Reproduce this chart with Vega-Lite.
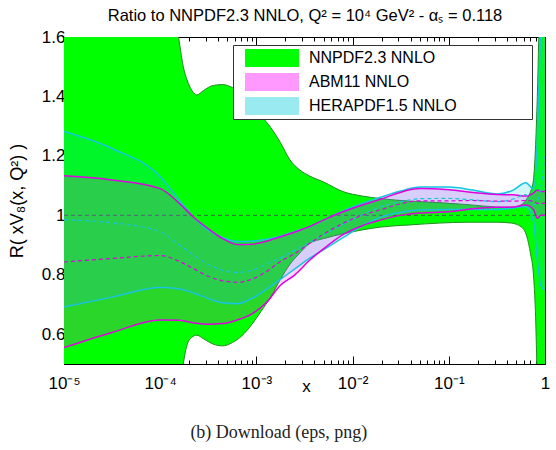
{
  "$schema": "https://vega.github.io/schema/vega-lite/v6.json",
  "width": 481,
  "height": 327,
  "autosize": {"type": "none"},
  "padding": {"left": 64, "top": 37, "right": 11, "bottom": 86},
  "background": "white",
  "config": {
    "font": "Liberation Sans",
    "view": {"stroke": null},
    "axis": {"grid": false, "zindex": 1, "domainColor": "black", "tickColor": "black", "labelColor": "black", "titleColor": "black", "titleFontWeight": "normal"}
  },
  "title": {"text": "(b) Download (eps, png)", "orient": "bottom", "font": "Liberation Serif", "fontSize": 18, "fontWeight": "normal", "color": "#222", "offset": 29, "anchor": "middle", "frame": "bounds"},
  "datasets": {
    "nn": [
      {"x": 1e-5, "lo": 0.3, "hi": 2.2},
      {"x": 3.162e-5, "lo": 0.3, "hi": 2.1},
      {"x": 1e-4, "lo": 0.3, "hi": 1.9},
      {"x": 1.413e-4, "lo": 0.3, "hi": 1.68},
      {"x": 1.585e-4, "lo": 0.4, "hi": 1.58},
      {"x": 1.738e-4, "lo": 0.5, "hi": 1.5},
      {"x": 1.905e-4, "lo": 0.565, "hi": 1.455},
      {"x": 2.138e-4, "lo": 0.59, "hi": 1.42},
      {"x": 2.399e-4, "lo": 0.597, "hi": 1.405},
      {"x": 2.818e-4, "lo": 0.585, "hi": 1.42},
      {"x": 3.548e-4, "lo": 0.567, "hi": 1.437},
      {"x": 4.467e-4, "lo": 0.561, "hi": 1.44},
      {"x": 5.623e-4, "lo": 0.572, "hi": 1.43},
      {"x": 7.079e-4, "lo": 0.595, "hi": 1.41},
      {"x": 8.913e-4, "lo": 0.632, "hi": 1.375},
      {"x": 1.122e-3, "lo": 0.678, "hi": 1.335},
      {"x": 1.413e-3, "lo": 0.726, "hi": 1.295},
      {"x": 1.778e-3, "lo": 0.785, "hi": 1.245},
      {"x": 2.239e-3, "lo": 0.836, "hi": 1.186},
      {"x": 2.818e-3, "lo": 0.873, "hi": 1.153},
      {"x": 3.548e-3, "lo": 0.905, "hi": 1.133},
      {"x": 5.012e-3, "lo": 0.922, "hi": 1.112},
      {"x": 7.943e-3, "lo": 0.938, "hi": 1.08},
      {"x": 0.01259, "lo": 0.951, "hi": 1.065},
      {"x": 0.01995, "lo": 0.961, "hi": 1.056},
      {"x": 0.03981, "lo": 0.968, "hi": 1.048},
      {"x": 0.07943, "lo": 0.974, "hi": 1.043},
      {"x": 0.1585, "lo": 0.977, "hi": 1.036},
      {"x": 0.3162, "lo": 0.977, "hi": 1.028},
      {"x": 0.4467, "lo": 0.974, "hi": 1.027},
      {"x": 0.5623, "lo": 0.962, "hi": 1.035},
      {"x": 0.6457, "lo": 0.93, "hi": 1.055},
      {"x": 0.7079, "lo": 0.87, "hi": 1.08},
      {"x": 0.7586, "lo": 0.8, "hi": 1.12},
      {"x": 0.7943, "lo": 0.68, "hi": 1.22},
      {"x": 0.8318, "lo": 0.45, "hi": 1.4},
      {"x": 0.8913, "lo": 0.3, "hi": 1.8},
      {"x": 1, "lo": 0.3, "hi": 2.2}
    ],
    "abm": [
      {"x": 1e-5, "lo": 0.555, "hi": 1.133, "c": 0.843},
      {"x": 3.162e-5, "lo": 0.606, "hi": 1.119, "c": 0.855},
      {"x": 1e-4, "lo": 0.648, "hi": 1.09, "c": 0.865},
      {"x": 1.585e-4, "lo": 0.647, "hi": 1.04, "c": 0.845},
      {"x": 2.239e-4, "lo": 0.638, "hi": 0.993, "c": 0.82},
      {"x": 3.162e-4, "lo": 0.634, "hi": 0.955, "c": 0.795},
      {"x": 4.467e-4, "lo": 0.636, "hi": 0.922, "c": 0.78},
      {"x": 6.31e-4, "lo": 0.648, "hi": 0.902, "c": 0.775},
      {"x": 8.913e-4, "lo": 0.668, "hi": 0.903, "c": 0.785},
      {"x": 1.259e-3, "lo": 0.705, "hi": 0.913, "c": 0.81},
      {"x": 1.778e-3, "lo": 0.765, "hi": 0.928, "c": 0.845},
      {"x": 2.512e-3, "lo": 0.8, "hi": 0.944, "c": 0.872},
      {"x": 3.548e-3, "lo": 0.848, "hi": 0.962, "c": 0.905},
      {"x": 5.012e-3, "lo": 0.888, "hi": 0.985, "c": 0.937},
      {"x": 7.943e-3, "lo": 0.935, "hi": 1.012, "c": 0.973},
      {"x": 0.01259, "lo": 0.965, "hi": 1.035, "c": 1.0},
      {"x": 0.01995, "lo": 0.985, "hi": 1.055, "c": 1.02},
      {"x": 0.03162, "lo": 1.0, "hi": 1.078, "c": 1.039},
      {"x": 0.05012, "lo": 1.008, "hi": 1.09, "c": 1.049},
      {"x": 0.1, "lo": 1.012, "hi": 1.086, "c": 1.049},
      {"x": 0.1778, "lo": 1.022, "hi": 1.077, "c": 1.05},
      {"x": 0.3162, "lo": 1.027, "hi": 1.07, "c": 1.048},
      {"x": 0.4677, "lo": 1.028, "hi": 1.069, "c": 1.048},
      {"x": 0.631, "lo": 1.035, "hi": 1.065, "c": 1.05},
      {"x": 0.7586, "lo": 1.02, "hi": 1.075, "c": 1.048},
      {"x": 0.8318, "lo": 0.99, "hi": 1.085, "c": 1.04},
      {"x": 0.912, "lo": 1.0, "hi": 1.08, "c": 1.04},
      {"x": 1, "lo": 1.0, "hi": 1.08, "c": 1.04}
    ],
    "hera": [
      {"x": 1e-5, "lo": 0.692, "hi": 1.282, "c": 0.985},
      {"x": 3.162e-5, "lo": 0.725, "hi": 1.225, "c": 0.975},
      {"x": 1e-4, "lo": 0.757, "hi": 1.13, "c": 0.945},
      {"x": 1.585e-4, "lo": 0.752, "hi": 1.05, "c": 0.9},
      {"x": 2.239e-4, "lo": 0.738, "hi": 0.993, "c": 0.865},
      {"x": 3.162e-4, "lo": 0.72, "hi": 0.95, "c": 0.835},
      {"x": 4.467e-4, "lo": 0.706, "hi": 0.925, "c": 0.815},
      {"x": 6.31e-4, "lo": 0.703, "hi": 0.912, "c": 0.808},
      {"x": 8.913e-4, "lo": 0.72, "hi": 0.913, "c": 0.815},
      {"x": 1.259e-3, "lo": 0.75, "hi": 0.92, "c": 0.835},
      {"x": 1.778e-3, "lo": 0.785, "hi": 0.93, "c": 0.857},
      {"x": 2.512e-3, "lo": 0.82, "hi": 0.946, "c": 0.883},
      {"x": 3.548e-3, "lo": 0.855, "hi": 0.962, "c": 0.908},
      {"x": 5.012e-3, "lo": 0.885, "hi": 0.985, "c": 0.935},
      {"x": 7.943e-3, "lo": 0.925, "hi": 1.015, "c": 0.97},
      {"x": 0.01259, "lo": 0.965, "hi": 1.04, "c": 1.002},
      {"x": 0.01995, "lo": 0.995, "hi": 1.062, "c": 1.03},
      {"x": 0.03162, "lo": 1.01, "hi": 1.082, "c": 1.046},
      {"x": 0.05012, "lo": 1.018, "hi": 1.095, "c": 1.056},
      {"x": 0.1, "lo": 1.02, "hi": 1.095, "c": 1.057},
      {"x": 0.1778, "lo": 1.02, "hi": 1.085, "c": 1.052},
      {"x": 0.3162, "lo": 1.02, "hi": 1.072, "c": 1.046},
      {"x": 0.4677, "lo": 1.025, "hi": 1.085, "c": 1.055},
      {"x": 0.631, "lo": 1.03, "hi": 1.11, "c": 1.07},
      {"x": 0.7586, "lo": 0.98, "hi": 1.09, "c": 1.035},
      {"x": 0.8318, "lo": 0.85, "hi": 1.25, "c": 1.05},
      {"x": 0.912, "lo": 0.76, "hi": 1.7, "c": 1.1},
      {"x": 1, "lo": 0.75, "hi": 2.0, "c": 1.2}
    ],
    "nnc": [
      {"x": 1e-5, "y": 1},
      {"x": 1, "y": 1}
    ]
  },
  "resolve": {"axis": {"x": "independent", "y": "independent"}},
  "layer": [
    {
      "data": {"name": "nn"},
      "mark": {"type": "area", "interpolate": "monotone", "clip": true},
      "encoding": {
        "x": {
          "field": "x", "type": "quantitative",
          "scale": {"type": "log", "domain": [1e-5, 1], "nice": false},
          "axis": {
            "orient": "bottom",
            "domain": true,
            "values": [1e-5, 2e-5, 3e-5, 4e-5, 5e-5, 6e-5, 7e-5, 8e-5, 9e-5, 1e-4, 2e-4, 3e-4, 4e-4, 5e-4, 6e-4, 7e-4, 8e-4, 9e-4, 1e-3, 2e-3, 3e-3, 4e-3, 5e-3, 6e-3, 7e-3, 8e-3, 9e-3, 0.01, 0.02, 0.03, 0.04, 0.05, 0.06, 0.07, 0.08, 0.09, 0.1, 0.2, 0.3, 0.4, 0.5, 0.6, 0.7, 0.8, 0.9, 1],
            "tickSize": {"condition": {"test": "abs(log(datum.value)/LN10 - round(log(datum.value)/LN10)) < 0.001", "value": -8}, "value": -4},
            "labelExpr": "abs(log(datum.value)/LN10 - round(log(datum.value)/LN10)) < 0.001 ? (datum.value > 0.5 ? '1' : '10' + ['⁻⁵','⁻⁴','⁻³','⁻²','⁻¹'][round(log(datum.value)/LN10) + 5]) : ''",
            "labelFontSize": 17,
            "labelPadding": 19,
            "labelOverlap": false,
            "labelFlush": false,
            "labelBound": false,
            "title": "x",
            "titleFontSize": 17,
            "titleX": 242,
            "titleY": 14
          }
        },
        "y": {
          "field": "lo", "type": "quantitative",
          "scale": {"domain": [0.5, 1.6], "nice": false, "zero": false},
          "axis": {
            "orient": "left",
            "domain": true,
            "values": [0.5, 0.55, 0.6, 0.65, 0.7, 0.75, 0.8, 0.85, 0.9, 0.95, 1, 1.05, 1.1, 1.15, 1.2, 1.25, 1.3, 1.35, 1.4, 1.45, 1.5, 1.55, 1.6],
            "tickSize": -5,
            "labelExpr": "round(datum.value*100) % 20 == 0 ? format(datum.value, '~g') : ''",
            "labelFontSize": 17,
            "labelPadding": 4,
            "labelOverlap": false,
            "labelFlush": false,
            "title": "R( xV₈(x, Q²) )",
            "titleFontSize": 18,
            "titleX": -38
          }
        },
        "y2": {"field": "hi"},
        "color": {
          "datum": "NNPDF2.3 NNLO",
          "type": "nominal",
          "scale": {"domain": ["NNPDF2.3 NNLO", "ABM11 NNLO", "HERAPDF1.5 NNLO"], "range": ["#00ff00", "#ff00ff", "#00ccdd"]},
          "legend": {
            "orient": "none",
            "legendX": 169,
            "legendY": 8,
            "title": null,
            "strokeColor": "#333",
            "fillColor": "white",
            "padding": 4,
            "symbolType": "M-0.111,-1H5.889V1H-0.111Z",
            "symbolSize": 324,
            "symbolStrokeWidth": 0,
            "labelFontSize": 16,
            "labelOffset": 54,
            "labelLimit": 400,
            "rowPadding": 6,
            "labelColor": "black",
            "labelExpr": "datum.label == 'HERAPDF1.5 NNLO' ? datum.label + '\u00a0\u00a0\u00a0\u00a0\u00a0\u00a0\u00a0\u00a0\u00a0\u00a0\u00a0\u00a0\u00a0\u00a0\u00a0\u00a0\u200b' : datum.label",
            "encode": {"symbols": {"update": {"fillOpacity": {"signal": "datum.value == 'NNPDF2.3 NNLO' ? 1 : 0.4"}, "opacity": {"value": 1}}}}
          }
        }
      }
    },
    {
      "data": {"name": "nn"},
      "transform": [{"fold": ["lo", "hi"], "as": ["edge", "v"]}],
      "mark": {"type": "line", "interpolate": "monotone", "clip": true, "color": "#1f8f1f", "strokeWidth": 1},
      "encoding": {
        "x": {"field": "x", "type": "quantitative", "axis": null},
        "y": {"field": "v", "type": "quantitative", "axis": null},
        "detail": {"field": "edge"}
      }
    },
    {
      "data": {"name": "nnc"},
      "mark": {"type": "line", "clip": true, "color": "#3a6a3a", "strokeWidth": 1, "strokeDash": [4, 3]},
      "encoding": {
        "x": {
          "field": "x", "type": "quantitative",
          "axis": {
            "orient": "top",
            "domain": true,
            "labels": false,
            "values": [1e-5, 2e-5, 3e-5, 4e-5, 5e-5, 6e-5, 7e-5, 8e-5, 9e-5, 1e-4, 2e-4, 3e-4, 4e-4, 5e-4, 6e-4, 7e-4, 8e-4, 9e-4, 1e-3, 2e-3, 3e-3, 4e-3, 5e-3, 6e-3, 7e-3, 8e-3, 9e-3, 0.01, 0.02, 0.03, 0.04, 0.05, 0.06, 0.07, 0.08, 0.09, 0.1, 0.2, 0.3, 0.4, 0.5, 0.6, 0.7, 0.8, 0.9, 1],
            "tickSize": {"condition": {"test": "abs(log(datum.value)/LN10 - round(log(datum.value)/LN10)) < 0.001", "value": -8}, "value": -4},
            "title": "Ratio to NNPDF2.3 NNLO, Q² = 10⁴ GeV² - αₛ = 0.118",
            "titleFontSize": 16.5,
            "titleY": -17,
            "titleBaseline": "alphabetic"
          }
        },
        "y": {
          "field": "y", "type": "quantitative",
          "axis": {
            "orient": "right",
            "domain": true,
            "labels": false,
            "values": [0.5, 0.55, 0.6, 0.65, 0.7, 0.75, 0.8, 0.85, 0.9, 0.95, 1, 1.05, 1.1, 1.15, 1.2, 1.25, 1.3, 1.35, 1.4, 1.45, 1.5, 1.55, 1.6],
            "tickSize": -5,
            "title": null
          }
        }
      }
    },
    {
      "data": {"name": "hera"},
      "mark": {"type": "area", "interpolate": "monotone", "clip": true, "color": "#00ccdd", "fillOpacity": 0.18},
      "encoding": {
        "x": {"field": "x", "type": "quantitative", "axis": null},
        "y": {"field": "lo", "type": "quantitative", "axis": null},
        "y2": {"field": "hi"}
      }
    },
    {
      "data": {"name": "abm"},
      "mark": {"type": "area", "interpolate": "monotone", "clip": true, "color": "#ff00ff", "fillOpacity": 0.16},
      "encoding": {
        "x": {"field": "x", "type": "quantitative", "axis": null},
        "y": {"field": "lo", "type": "quantitative", "axis": null},
        "y2": {"field": "hi"}
      }
    },
    {
      "data": {"name": "hera"},
      "transform": [{"fold": ["lo", "hi"], "as": ["edge", "v"]}],
      "mark": {"type": "line", "interpolate": "monotone", "clip": true, "color": "#18c4e0", "strokeWidth": 1.5},
      "encoding": {
        "x": {"field": "x", "type": "quantitative", "axis": null},
        "y": {"field": "v", "type": "quantitative", "axis": null},
        "detail": {"field": "edge"}
      }
    },
    {
      "data": {"name": "abm"},
      "transform": [{"fold": ["lo", "hi"], "as": ["edge", "v"]}],
      "mark": {"type": "line", "interpolate": "monotone", "clip": true, "color": "#e000e0", "strokeWidth": 1.5},
      "encoding": {
        "x": {"field": "x", "type": "quantitative", "axis": null},
        "y": {"field": "v", "type": "quantitative", "axis": null},
        "detail": {"field": "edge"}
      }
    },
    {
      "data": {"name": "hera"},
      "mark": {"type": "line", "interpolate": "monotone", "clip": true, "color": "#18c4e0", "strokeWidth": 1.2, "strokeDash": [4, 3]},
      "encoding": {
        "x": {"field": "x", "type": "quantitative", "axis": null},
        "y": {"field": "c", "type": "quantitative", "axis": null}
      }
    },
    {
      "data": {"name": "abm"},
      "mark": {"type": "line", "interpolate": "monotone", "clip": true, "color": "#e000e0", "strokeWidth": 1.2, "strokeDash": [4, 3]},
      "encoding": {
        "x": {"field": "x", "type": "quantitative", "axis": null},
        "y": {"field": "c", "type": "quantitative", "axis": null}
      }
    }
  ]
}
